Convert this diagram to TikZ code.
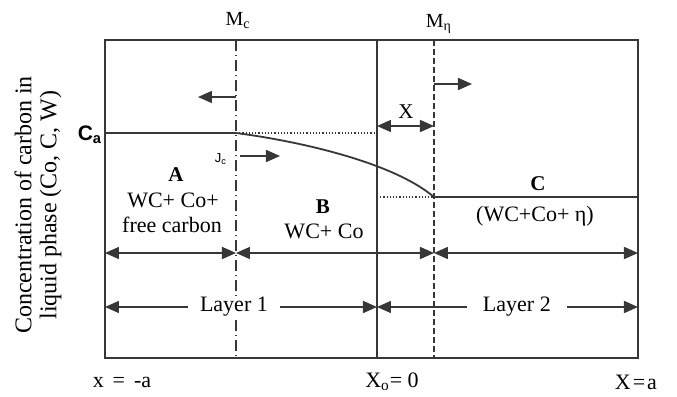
\documentclass[tikz,border=0pt]{standalone}
\usepackage{fontspec}
\setmainfont{Liberation Serif}
\newfontfamily\arialfam{Liberation Sans}
\usepackage{tikz}
\usetikzlibrary{arrows.meta,positioning,calc}
\definecolor{linegray}{RGB}{55,55,55}
\tikzset{
  frameline/.style={draw=linegray,line width=1pt},
  mcline/.style={draw=linegray,line width=0.8pt,dash pattern=on 5.5pt off 2pt on 0.5pt off 2pt},
  etaline/.style={draw=linegray,line width=0.8pt,dash pattern=on 3pt off 1.5pt},
  profline/.style={draw=linegray,line width=0.9pt},
  dotline/.style={draw=linegray,line width=0.6pt,dash pattern=on 0.6pt off 1pt},
  dimarr/.style={{Triangle[length=7pt,width=6pt]}-{Triangle[length=7pt,width=6pt]},draw=linegray,line width=0.75pt},
  movearr/.style={-{Triangle[length=7pt,width=6pt]},draw=linegray,line width=0.75pt},
  lbl/.style={inner sep=0pt,anchor=base,font=\fontsize{11}{13}\selectfont},
  tagbox/.style={inner sep=0pt,anchor=base,font=\bfseries\fontsize{10.5}{12}\selectfont},
  frontlbl/.style={inner sep=0pt,anchor=base,font=\fontsize{10}{12}\selectfont},
  layerlbl/.style={inner sep=0pt,inner xsep=6pt,fill=white,font=\fontsize{11}{13}\selectfont}
}

\begin{document}
\begin{tikzpicture}[x=0.5pt,y=-0.5pt]
  \useasboundingbox (0,0) rectangle (677,397);

  %% Frame and interfaces
  \coordinate (fTL) at (105,40);
  \coordinate (fBR) at (638,358);
  \coordinate (mcT) at (236,40);  \coordinate (mcB) at (236,358);
  \coordinate (xoT) at (377,40);  \coordinate (xoB) at (377,358);
  \coordinate (etT) at (434,40);  \coordinate (etB) at (434,358);

  \draw[frameline] (fTL) rectangle (fBR);
  \draw[frameline] (xoT) -- (xoB);
  \draw[mcline] (mcT) -- (mcB);
  \draw[etaline] (etT) -- (etB);

  %% Concentration profile
  \coordinate (caL) at (105,133);
  \coordinate (caM) at (236,133);
  \coordinate (caX) at (377,133);
  \coordinate (ceX) at (377,197);
  \coordinate (ceM) at (434,197);
  \coordinate (ceR) at (638,197);
  \draw[profline] (caL) -- (caM) .. controls (290,140) and (390,160) .. (ceM) -- (ceR);
  \draw[dotline] (caM) -- (caX);
  \draw[dotline] (ceX) -- (ceM);

  %% Front movement
  \coordinate (mcMove) at (236,97);  \coordinate (mcMoveEnd) at (198,97);
  \coordinate (jcMove) at (240,156); \coordinate (jcMoveEnd) at (280,156);
  \coordinate (etMove) at (434,84);  \coordinate (etMoveEnd) at (472,84);
  \draw[movearr] (mcMove) -- (mcMoveEnd);
  \draw[movearr] (jcMove) -- (jcMoveEnd);
  \draw[movearr] (etMove) -- (etMoveEnd);

  %% Width X of zone B
  \coordinate (xwL) at (377,126);
  \coordinate (xwR) at (434,126);
  \draw[dimarr] (xwL) -- (xwR);
  \node[frontlbl,font=\fontsize{10.5}{12}\selectfont] (xwLab) at (406,118) {X};

  %% Zone extents
  \coordinate (zA) at (105,253);
  \coordinate (zB) at (236,253);
  \coordinate (zC) at (434,253);
  \coordinate (zD) at (638,253);
  \draw[dimarr] (zA) -- (zB);
  \draw[dimarr] (zB) -- (zC);
  \draw[dimarr] (zC) -- (zD);

  %% Layer extents
  \coordinate (lyA) at (105,307);
  \coordinate (lyB) at (377,307);
  \coordinate (lyC) at (638,307);
  \draw[dimarr] (lyA) -- node[layerlbl,pos=0.474] (ly1Lab) {Layer 1} (lyB);
  \draw[dimarr] (lyB) -- node[layerlbl,inner xsep=8pt,pos=0.536] (ly2Lab) {Layer 2} (lyC);

  %% Front labels
  \node[frontlbl] (mcLab) at (238,25) {M\textsubscript{c}};
  \node[frontlbl] (etLab) at (439,27) {M\textsubscript{η}};
  \node[inner sep=0pt,anchor=base,font=\arialfam\bfseries\fontsize{10.5}{12}\selectfont] (caLab) at (90,140) {C\textsubscript{a}};
  \node[inner sep=0pt,anchor=base,font=\arialfam\fontsize{6.5}{7}\selectfont] (jcLab) at (221,162) {J\textsubscript{c}};

  %% Zone A
  \node[tagbox] (aTag) at (176,181) {A};
  \node[lbl] (aPh1) at (173,207) {WC+ Co+};
  \node[lbl] (aPh2) at (172,232) {free carbon};

  %% Zone B
  \node[tagbox] (bTag) at (323,213) {B};
  \node[lbl] (bPh) at (324,238) {WC+ Co};

  %% Zone C
  \node[tagbox] (cTag) at (538,190) {C};
  \node[lbl] (cPh) at (535,221) {(WC+Co+ η)};

  %% Positions along x
  \node[lbl] (xLeft) at (122,387) {x\hspace{4.5pt}=\hspace{4.5pt}-a};
  \node[lbl] (xZero) at (392,387) {X\textsubscript{o}= 0};
  \node[lbl] (xRight) at (636,389) {X\kern1pt=\kern1pt a};

  %% Axis title
  \node[rotate=90,align=center,inner sep=0pt,font=\fontsize{12}{12.5}\selectfont] (yLab) at (38,205)
    {Concentration of carbon in\\liquid phase (Co, C, W)};

\end{tikzpicture}
\end{document}
